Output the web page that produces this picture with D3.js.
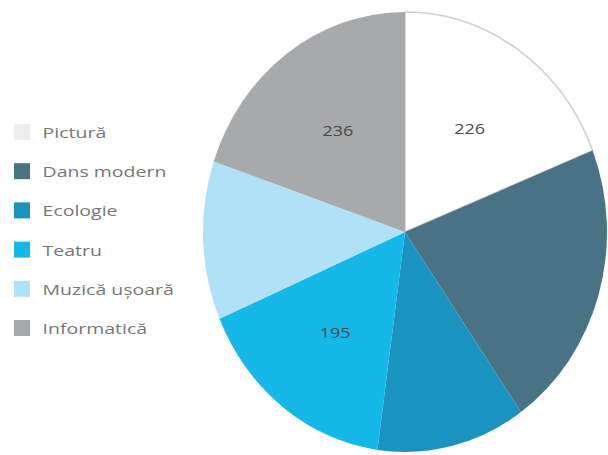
<!DOCTYPE html>
<html><head><meta charset="utf-8">
<script src="https://cdn.jsdelivr.net/npm/d3@7"></script>
<style>body{margin:0;background:#fff}svg{display:block}</style>
</head><body>
<svg id="c" width="608" height="455"></svg>
<script>
const categories = ["Pictură","Dans modern","Ecologie","Teatru","Muzică ușoară","Informatică"];
const values = [226, 254, 142, 195, 139, 236];
const shownLabels = [true, false, false, true, false, true];
const colors = ["#ffffff","#4a7285","#1a93c0","#16b8e8","#b0e1f6","#a7a9ac"];

const svg = d3.select("#c");
const R = 202, sy = 1.089, cx = 405, cy = 232;
const pie = d3.pie().sort(null).value(d => d)(values);
const arc = d3.arc().innerRadius(0).outerRadius(R);
const lab = d3.arc().innerRadius(R*0.57).outerRadius(R*0.57);

const g = svg.append("g").attr("transform", `translate(${cx},${cy}) scale(1,${sy})`);
g.selectAll("path").data(pie).join("path")
  .attr("d", arc)
  .attr("fill", (d,i) => colors[i])
  .attr("stroke", (d,i) => i === 0 ? "#cfcfcf" : "none")
  .attr("stroke-width", 1.5)
  .attr("vector-effect","non-scaling-stroke");

svg.append("g").selectAll("text").data(pie.filter((d,i)=>shownLabels[i])).join("text")
  .attr("transform", d => `translate(${cx + lab.centroid(d)[0]},${cy + lab.centroid(d)[1]*sy}) scale(1.2,1)`)
  .attr("text-anchor","middle").attr("dominant-baseline","central")
  .attr("font-family","Open Sans, sans-serif").attr("font-size",15)
  .attr("fill","#4a4a4a")
  .text(d => d.value);

const leg = svg.append("g");
const y = d3.scalePoint().domain(categories).range([132, 328]);
const items = leg.selectAll("g").data(categories).join("g")
  .attr("transform", d => `translate(14,${y(d)})`);
items.append("rect").attr("x",0).attr("y",-8).attr("width",16).attr("height",16)
  .attr("fill",(d,i)=> i===0 ? "#eeeeee" : colors[i]);
items.append("text").attr("x",22).attr("y",0).attr("dominant-baseline","central")
  .attr("font-family","Open Sans, sans-serif").attr("font-size",15)
  .attr("fill","#777777")
  .attr("transform","scale(1.3,1)")
  .text(d => d);
</script>
</body></html>
